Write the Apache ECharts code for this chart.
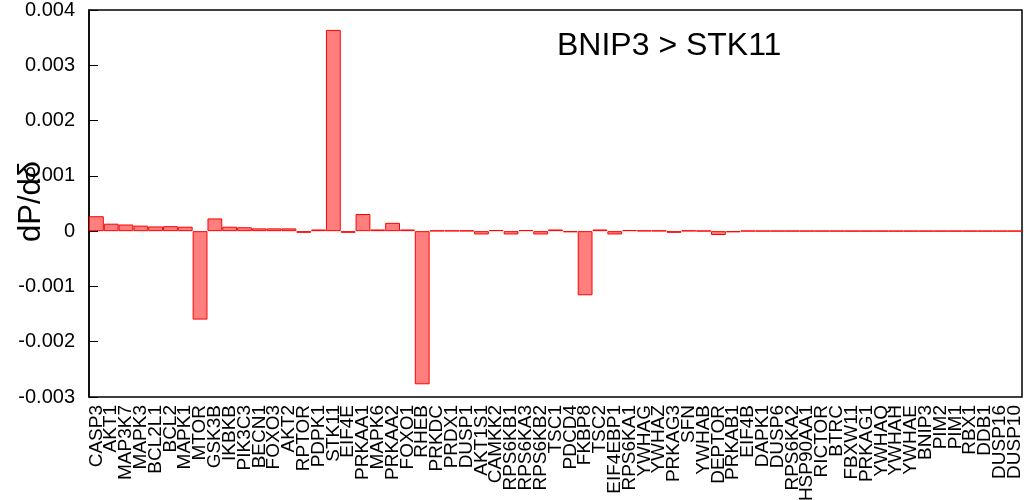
<!DOCTYPE html>
<html>
<head>
<meta charset="utf-8">
<script src="https://cdn.jsdelivr.net/npm/echarts@6/dist/echarts.min.js"></script>
<style>html,body{margin:0;padding:0;background:#fff}#c{width:1024px;height:500px}</style>
</head>
<body>
<div id="c"></div>
<script>
const categories = ["CASP3","AKT1","MAP3K7","MAPK3","BCL2L1","BCL2","MAPK1","MTOR","GSK3B","IKBKB","PIK3C3","BECN1","FOXO3","AKT2","RPTOR","PDPK1","STK11","EIF4E","PRKAA1","MAPK6","PRKAA2","FOXO1","RHEB","PRKDC","PRDX1","DUSP1","AKT1S1","CAMKK2","RPS6KB1","RPS6KA3","RPS6KB2","TSC1","PDCD4","FKBP8","TSC2","EIF4EBP1","RPS6KA1","YWHAG","YWHAZ","PRKAG3","SFN","YWHAB","DEPTOR","PRKAB1","EIF4B","DAPK1","DUSP6","RPS6KA2","HSP90AA1","RICTOR","BTRC","FBXW11","PRKAG1","YWHAQ","YWHAH","YWHAE","BNIP3","PIM2","PIM1","RBX1","DDB1","DUSP16","DUSP10"];
const values = [0.00027,0.000135,0.00012,0.0001,0.000085,0.00009,0.00008,-0.0016,0.00023,0.00008,0.00007,0.00005,0.00005,0.00005,-0.00003,0.00003,0.00364,-0.00003,0.00031,0.00003,0.00015,0.00003,-0.00277,0.00001,0.00001,0.00001,-0.00006,0.00002,-0.00006,0.00002,-0.00006,0.00003,-0.00002,-0.00116,0.00003,-0.00006,0.00002,0.00001,0.00001,-0.00003,0.00001,0.000005,-0.00007,-0.00002,0.000005,0.000004,0.000004,0.000004,0.000003,0.000003,0.000003,0.000002,0.000002,0.000002,0.000002,0.000002,0.000002,0.000002,0.000002,0.000002,0.000002,0.000002,0.000002];
const titleText = "BNIP3 > STK11";
const yName = "dP/dδ";
const yMin = -0.003, yMax = 0.004, yStep = 0.001;

const chart = echarts.init(document.getElementById('c'));
chart.setOption({
  animation: false,
  textStyle: {fontFamily: 'Liberation Sans'},
  grid: {left: 89, right: 2, top: 10, bottom: 103, containLabel: false, outerBoundsMode: 'none', show: true, borderColor: '#000', borderWidth: 1.5, backgroundColor: 'transparent'},
  xAxis: {
    type: 'category', data: categories,
    axisLine: {show: false, onZero: false},
    axisTick: {show: false},
    axisLabel: {rotate: 90, interval: 0, color: '#000', fontSize: 19, margin: 8, fontFamily: 'Liberation Sans'}
  },
  yAxis: {
    type: 'value', min: yMin, max: yMax, interval: yStep,
    axisLine: {show: true, lineStyle: {color: '#000', width: 1.5}},
    axisTick: {show: true, inside: true, length: 9, lineStyle: {color: '#000', width: 1}},
    splitLine: {show: false},
    axisLabel: {color: '#000', fontSize: 20, margin: 14, fontFamily: 'Liberation Sans',
      formatter: v => { const r = Math.round(v * 1000) / 1000; return r === 0 ? '0' : r.toFixed(3); }}
  },
  series: [{
    type: 'bar', data: values, barCategoryGap: '0%',
    itemStyle: {color: 'rgba(255,0,0,0.5)', borderColor: '#ff0000', borderWidth: 1}
  }],
  graphic: [
    {type: 'text', left: 557, top: 30, style: {text: titleText, font: '32px "Liberation Sans"', fill: '#000'}},
    {type: 'text', x: 47, y: 242, rotation: Math.PI / 2, style: {text: yName, font: '31px "Liberation Sans"', fill: '#000', textAlign: 'left', textVerticalAlign: 'bottom'}}
  ]
});
</script>
</body>
</html>
